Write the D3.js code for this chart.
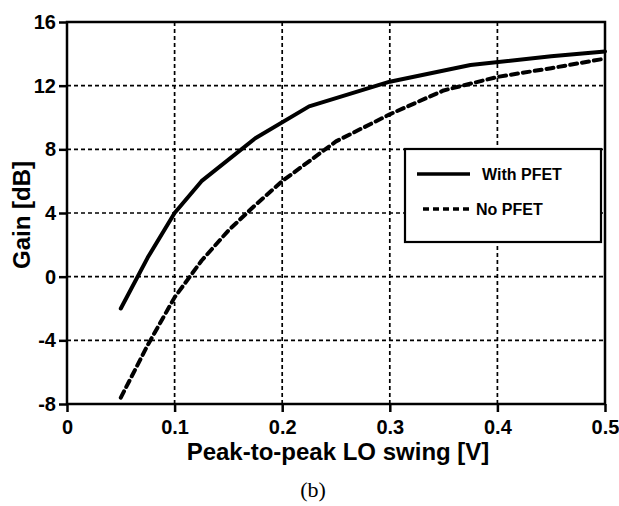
<!DOCTYPE html>
<html>
<head>
<meta charset="utf-8">
<script src="https://cdn.jsdelivr.net/npm/d3@7"></script>
<style>
  body { margin: 0; background: #fff; }
  svg { display: block; }
  text { font-family: "Liberation Sans", Arial, sans-serif; font-weight: bold; fill: #000; }
</style>
</head>
<body>
<svg id="chart"></svg>
<script>
/* data */
const x_ticks = [0, 0.1, 0.2, 0.3, 0.4, 0.5],
  y_ticks = [-8, -4, 0, 4, 8, 12, 16];

const with_pfet_x = [0.05, 0.075, 0.1, 0.125, 0.175, 0.225, 0.3, 0.375, 0.45, 0.5],
  with_pfet_y = [-2, 1.2, 4, 6, 8.7, 10.7, 12.25, 13.3, 13.85, 14.15];

const no_pfet_x = [0.05, 0.075, 0.1, 0.125, 0.15, 0.175, 0.2, 0.25, 0.3, 0.35, 0.4, 0.45, 0.5],
  no_pfet_y = [-7.6, -4.3, -1.3, 1.0, 2.9, 4.5, 6.0, 8.5, 10.2, 11.7, 12.55, 13.1, 13.7];

const series_names = ["With PFET", "No PFET"];

/* display parameters */
const width = 619,
  height = 506,
  m_left = 67,
  m_right = 605,
  m_top = 22,
  m_bottom = 404;

let svg = d3.select("#chart").attr("width", width).attr("height", height);

let x = d3.scaleLinear().domain([0, 0.5]).range([m_left, m_right]),
  y = d3.scaleLinear().domain([-8, 16]).range([m_bottom, m_top]);

/* grid */
let grid = svg.append("g").attr("stroke", "#000").attr("stroke-width", 1.7)
  .attr("stroke-dasharray", "4,3");

grid.selectAll(".vgrid")
  .data(x_ticks.filter(d => d > 0 && d < 0.5))
  .join("line")
  .attr("x1", d => x(d)).attr("x2", d => x(d))
  .attr("y1", m_top).attr("y2", m_bottom);

grid.selectAll(".hgrid")
  .data(y_ticks.filter(d => d > -8 && d < 16))
  .join("line")
  .attr("x1", m_left).attr("x2", m_right)
  .attr("y1", d => y(d)).attr("y2", d => y(d));

/* frame */
svg.append("rect")
  .attr("x", m_left).attr("y", m_top)
  .attr("width", m_right - m_left).attr("height", m_bottom - m_top)
  .attr("fill", "none").attr("stroke", "#000").attr("stroke-width", 2.5);

/* axes */
let x_axis = svg.append("g")
  .attr("transform", "translate(0," + m_bottom + ")")
  .call(d3.axisBottom(x).tickValues(x_ticks).tickFormat(d => d === 0 ? "0" : d3.format(".1f")(d))
    .tickSize(8).tickSizeOuter(0));

let y_axis = svg.append("g")
  .attr("transform", "translate(" + m_left + ",0)")
  .call(d3.axisLeft(y).tickValues(y_ticks).tickFormat(d => String(d)).tickSize(8).tickSizeOuter(0));

[x_axis, y_axis].forEach(a => {
  a.select(".domain").remove();
  a.selectAll(".tick line").attr("stroke", "#000").attr("stroke-width", 2.5);
  a.selectAll(".tick text")
    .attr("font-family", "Liberation Sans, Arial, sans-serif")
    .attr("font-weight", "bold")
    .attr("font-size", 20)
    .attr("fill", "#000");
});
x_axis.selectAll(".tick text").attr("dy", "0.95em").attr("y", 11);
y_axis.selectAll(".tick text").attr("x", -11);

/* axis titles */
svg.append("text")
  .attr("x", 338).attr("y", 460)
  .attr("text-anchor", "middle")
  .attr("font-size", 24)
  .text("Peak-to-peak LO swing [V]");

svg.append("text")
  .attr("transform", "translate(30," + 215 + ") rotate(-90)")
  .attr("text-anchor", "middle")
  .attr("font-size", 24)
  .text("Gain [dB]");

svg.append("text")
  .attr("x", 313).attr("y", 497)
  .attr("text-anchor", "middle")
  .style("font-family", "'Liberation Serif', 'Times New Roman', serif")
  .style("font-weight", "normal")
  .attr("font-size", 22)
  .text("(b)");

/* curves */
let line = d3.line().x(d => x(d[0])).y(d => y(d[1]));

svg.append("path")
  .datum(d3.zip(with_pfet_x, with_pfet_y))
  .attr("d", line)
  .attr("fill", "none").attr("stroke", "#000").attr("stroke-width", 4)
  .attr("stroke-linecap", "round").attr("stroke-linejoin", "round");

svg.append("path")
  .datum(d3.zip(no_pfet_x, no_pfet_y))
  .attr("d", line)
  .attr("fill", "none").attr("stroke", "#000").attr("stroke-width", 4)
  .attr("stroke-dasharray", "7,5")
  .attr("stroke-linecap", "round").attr("stroke-linejoin", "round");

/* legend */
let legend = svg.append("g");
legend.append("rect")
  .attr("x", 405).attr("y", 149).attr("width", 196).attr("height", 93)
  .attr("fill", "#fff").attr("stroke", "#000").attr("stroke-width", 2.2);

legend.append("line")
  .attr("x1", 417).attr("x2", 470).attr("y1", 174).attr("y2", 174)
  .attr("stroke", "#000").attr("stroke-width", 3.5);
legend.append("line")
  .attr("x1", 423).attr("x2", 470).attr("y1", 209).attr("y2", 209)
  .attr("stroke", "#000").attr("stroke-width", 3.5).attr("stroke-dasharray", "6,4");

legend.append("text").attr("x", 482).attr("y", 180).attr("font-size", 16).text(series_names[0]);
legend.append("text").attr("x", 476).attr("y", 215).attr("font-size", 16).text(series_names[1]);
</script>
</body>
</html>
